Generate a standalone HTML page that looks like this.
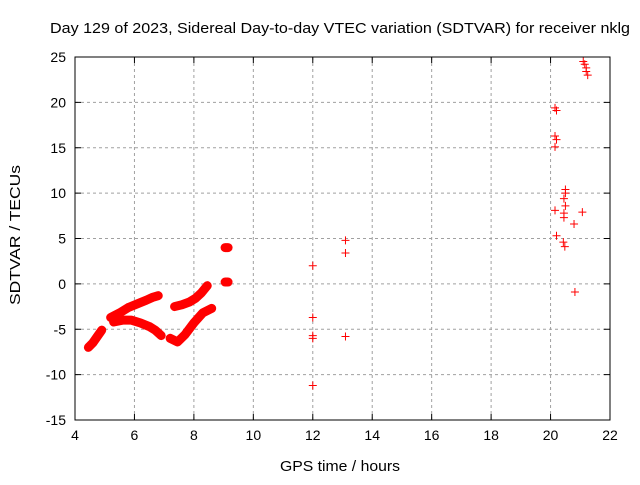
<!DOCTYPE html>
<html><head><meta charset="utf-8"><style>
body{margin:0;background:#fff}
svg text{font-family:"Liberation Sans",sans-serif;fill:#000}
</style></head><body>
<svg id="chart" width="640" height="480">
<text x="50" y="33" font-size="15" textLength="580" lengthAdjust="spacingAndGlyphs">Day 129 of 2023, Sidereal Day-to-day VTEC variation (SDTVAR) for receiver nklg</text>
<text x="280" y="471" font-size="15" textLength="120" lengthAdjust="spacingAndGlyphs">GPS time / hours</text>
<text transform="translate(20,305) rotate(-90)" font-size="15" textLength="140" lengthAdjust="spacingAndGlyphs">SDTVAR / TECUs</text>
<g id="grid"></g><g id="bands"></g><g id="marks"></g><g id="axes"></g>
</svg>
<script>
const xTicks=[4,6,8,10,12,14,16,18,20,22];
const yTicks=[-15,-10,-5,0,5,10,15,20,25];
// dense bands (hours, TECU)
const bandA_x=[4.45,4.6,4.75,4.9];
const bandA_y=[-7.0,-6.5,-5.8,-5.1];
const bandB_x=[5.2,5.5,5.8,6.1,6.4,6.6,6.8];
const bandB_y=[-3.7,-3.2,-2.6,-2.2,-1.8,-1.5,-1.3];
const bandC_x=[5.3,5.6,5.9,6.2,6.5,6.7,6.9];
const bandC_y=[-4.2,-4.0,-4.0,-4.3,-4.7,-5.1,-5.7];
const bandD_x=[7.2,7.45,7.7,8.0,8.3,8.6];
const bandD_y=[-6.0,-6.4,-5.6,-4.3,-3.2,-2.7];
const bandE_x=[7.35,7.6,7.85,8.05,8.25,8.45];
const bandE_y=[-2.5,-2.3,-2.0,-1.6,-1.0,-0.2];
const bandF_x=[9.05,9.15];
const bandF_y=[4.0,4.0];
const bandG_x=[9.05,9.15];
const bandG_y=[0.2,0.2];
// isolated points
const ptX=[12,12,12,12,12,13.1,13.1,13.1,21.1,21.15,21.2,21.2,21.25,20.15,20.2,20.15,20.2,20.15,20.5,20.5,20.45,20.5,20.45,20.45,20.15,21.07,20.79,20.2,20.43,20.48,20.82];
const ptY=[2.0,-3.7,-5.7,-6.0,-11.2,4.8,3.4,-5.8,24.5,24.2,23.8,23.4,23.0,19.4,19.1,16.3,15.9,15.1,10.4,10.0,9.4,8.6,7.8,7.3,8.1,7.9,6.6,5.3,4.6,4.1,-0.9];
const L=75,R=610,T=57,B=420,ns="http://www.w3.org/2000/svg";
const sx=v=>L+(v-4)/18*(R-L), sy=v=>B-(v+15)/40*(B-T);
function mk(t,a,p){const e=document.createElementNS(ns,t);for(const k in a)e.setAttribute(k,a[k]);p.appendChild(e);return e;}
const g=document.getElementById('grid'),ax=document.getElementById('axes'),bd=document.getElementById('bands'),mm=document.getElementById('marks');
xTicks.forEach(v=>{const x=sx(v);
 if(v>4&&v<22){const l=mk('line',{x1:x,x2:x,y1:T,y2:B,stroke:'#a0a0a0','stroke-dasharray':'3,3'},g);
 
 }
 mk('line',{x1:x,x2:x,y1:B,y2:B-6,stroke:'#000'},ax);mk('line',{x1:x,x2:x,y1:T,y2:T+6,stroke:'#000'},ax);
 const t=mk('text',{x:x,y:B+20,'font-size':14,'text-anchor':'middle'},ax);t.textContent=v;
 
 });
yTicks.forEach(v=>{const y=sy(v);
 if(v>-15&&v<25){const l=mk('line',{x1:L,x2:R,y1:y,y2:y,stroke:'#a0a0a0','stroke-dasharray':'3,3'},g);
 
 }
 mk('line',{x1:L,x2:L+6,y1:y,y2:y,stroke:'#000'},ax);mk('line',{x1:R,x2:R-6,y1:y,y2:y,stroke:'#000'},ax);
 const t=mk('text',{x:L-9,y:y+5,'font-size':14,'text-anchor':'end'},ax);t.textContent=v;
 
 });
const fr=mk('rect',{x:L,y:T,width:R-L,height:B-T,fill:'none',stroke:'#000'},ax);


function plus(x,y){const p=mk('path',{d:`M${sx(x)-4},${sy(y)}h8M${sx(x)},${sy(y)-4}v8`,stroke:'#f00','stroke-width':1},mm);
 
 }
[[bandA_x,bandA_y],[bandB_x,bandB_y],[bandC_x,bandC_y],[bandD_x,bandD_y],[bandE_x,bandE_y],[bandF_x,bandF_y],[bandG_x,bandG_y]].forEach(([xs,ys])=>{
 const pl=mk('polyline',{points:xs.map((x,i)=>sx(x)+','+sy(ys[i])).join(' '),fill:'none',stroke:'#f00','stroke-width':9,'stroke-linejoin':'round','stroke-linecap':'round'},bd);
 
 
 xs.forEach((x,i)=>plus(x,ys[i]));});
ptX.forEach((x,i)=>plus(x,ptY[i]));
</script>
</body></html>
